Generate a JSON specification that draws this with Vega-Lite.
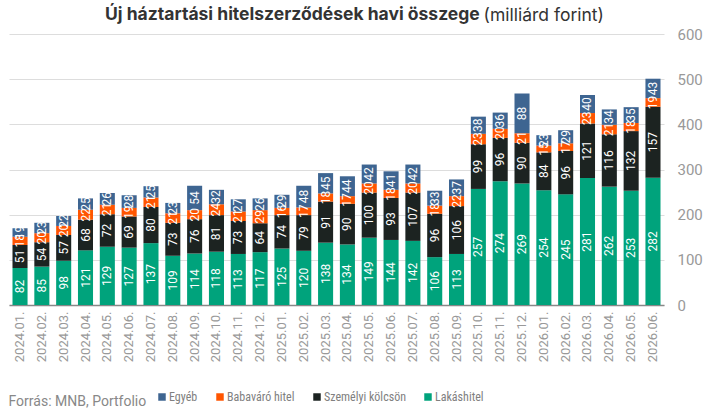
{
  "$schema": "https://vega.github.io/schema/vega-lite/v6.json",
  "autosize": {"type": "none"},
  "width": 655,
  "height": 271,
  "padding": {"left": 9, "top": 34, "right": 55, "bottom": 112},
  "background": "white",
  "title": {
    "text": "Új háztartási hitelszerződések havi összege",
    "anchor": "start",
    "frame": "group",
    "dx": 96,
    "dy": 31,
    "offset": 0,
    "baseline": "alphabetic",
    "font": "Inter",
    "fontSize": 17.5,
    "fontWeight": "bold",
    "color": "#333333"
  },
  "data": {
    "values": [
      {"honap": "2024.01.", "Lakáshitel": 82, "Személyi kölcsön": 51, "Babaváró hitel": 18, "Egyéb": 19},
      {"honap": "2024.02.", "Lakáshitel": 85, "Személyi kölcsön": 54, "Babaváró hitel": 20, "Egyéb": 23},
      {"honap": "2024.03.", "Lakáshitel": 98, "Személyi kölcsön": 57, "Babaváró hitel": 20, "Egyéb": 22},
      {"honap": "2024.04.", "Lakáshitel": 121, "Személyi kölcsön": 68, "Babaváró hitel": 22, "Egyéb": 25},
      {"honap": "2024.05.", "Lakáshitel": 129, "Személyi kölcsön": 72, "Babaváró hitel": 21, "Egyéb": 26},
      {"honap": "2024.06.", "Lakáshitel": 127, "Személyi kölcsön": 69, "Babaváró hitel": 19, "Egyéb": 28},
      {"honap": "2024.07.", "Lakáshitel": 137, "Személyi kölcsön": 80, "Babaváró hitel": 21, "Egyéb": 25},
      {"honap": "2024.08.", "Lakáshitel": 109, "Személyi kölcsön": 73, "Babaváró hitel": 21, "Egyéb": 23},
      {"honap": "2024.09.", "Lakáshitel": 114, "Személyi kölcsön": 76, "Babaváró hitel": 20, "Egyéb": 54},
      {"honap": "2024.10.", "Lakáshitel": 118, "Személyi kölcsön": 81, "Babaváró hitel": 24, "Egyéb": 32},
      {"honap": "2024.11.", "Lakáshitel": 113, "Személyi kölcsön": 73, "Babaváró hitel": 21, "Egyéb": 27},
      {"honap": "2024.12.", "Lakáshitel": 117, "Személyi kölcsön": 64, "Babaváró hitel": 29, "Egyéb": 26},
      {"honap": "2025.01.", "Lakáshitel": 125, "Személyi kölcsön": 74, "Babaváró hitel": 16, "Egyéb": 29},
      {"honap": "2025.02.", "Lakáshitel": 120, "Személyi kölcsön": 79, "Babaváró hitel": 17, "Egyéb": 48},
      {"honap": "2025.03.", "Lakáshitel": 138, "Személyi kölcsön": 91, "Babaváró hitel": 18, "Egyéb": 45},
      {"honap": "2025.04.", "Lakáshitel": 134, "Személyi kölcsön": 90, "Babaváró hitel": 17, "Egyéb": 44},
      {"honap": "2025.05.", "Lakáshitel": 149, "Személyi kölcsön": 100, "Babaváró hitel": 20, "Egyéb": 42},
      {"honap": "2025.06.", "Lakáshitel": 144, "Személyi kölcsön": 93, "Babaváró hitel": 18, "Egyéb": 41},
      {"honap": "2025.07.", "Lakáshitel": 142, "Személyi kölcsön": 107, "Babaváró hitel": 20, "Egyéb": 42},
      {"honap": "2025.08.", "Lakáshitel": 106, "Személyi kölcsön": 96, "Babaváró hitel": 18, "Egyéb": 33},
      {"honap": "2025.09.", "Lakáshitel": 113, "Személyi kölcsön": 106, "Babaváró hitel": 22, "Egyéb": 37},
      {"honap": "2025.10.", "Lakáshitel": 257, "Személyi kölcsön": 99, "Babaváró hitel": 23, "Egyéb": 38},
      {"honap": "2025.11.", "Lakáshitel": 274, "Személyi kölcsön": 96, "Babaváró hitel": 20, "Egyéb": 36},
      {"honap": "2025.12.", "Lakáshitel": 269, "Személyi kölcsön": 90, "Babaváró hitel": 21, "Egyéb": 88},
      {"honap": "2026.01.", "Lakáshitel": 254, "Személyi kölcsön": 84, "Babaváró hitel": 15, "Egyéb": 23},
      {"honap": "2026.02.", "Lakáshitel": 245, "Személyi kölcsön": 96, "Babaváró hitel": 17, "Egyéb": 29},
      {"honap": "2026.03.", "Lakáshitel": 281, "Személyi kölcsön": 121, "Babaváró hitel": 23, "Egyéb": 40},
      {"honap": "2026.04.", "Lakáshitel": 262, "Személyi kölcsön": 116, "Babaváró hitel": 21, "Egyéb": 34},
      {"honap": "2026.05.", "Lakáshitel": 253, "Személyi kölcsön": 132, "Babaváró hitel": 18, "Egyéb": 35},
      {"honap": "2026.06.", "Lakáshitel": 282, "Személyi kölcsön": 157, "Babaváró hitel": 19, "Egyéb": 43}
    ]
  },
  "transform": [
    {"fold": ["Lakáshitel", "Személyi kölcsön", "Babaváró hitel", "Egyéb"], "as": ["tipus", "ertek"]},
    {"window": [{"op": "row_number", "as": "sorrend"}], "groupby": ["honap"]}
  ],
  "encoding": {
    "x": {
      "field": "honap",
      "type": "ordinal",
      "scale": {"paddingInner": 0.31, "paddingOuter": 0.16},
      "axis": {
        "title": "Forrás: MNB, Portfolio",
        "titleX": -1,
        "titleY": 100,
        "titleAlign": "left",
        "titleAnchor": "start",
        "titleBaseline": "alphabetic",
        "titleFont": "Roboto",
        "titleFontSize": 14,
        "titleFontWeight": 400,
        "titleColor": "#888888",
        "labelAngle": -90,
        "labelFont": "Roboto",
        "labelFontSize": 13,
        "labelColor": "#999999",
        "labelPadding": 6,
        "ticks": false,
        "domainColor": "#888888",
        "domainWidth": 1.5
      }
    },
    "y": {
      "field": "ertek",
      "type": "quantitative",
      "stack": "zero",
      "scale": {"domain": [0, 600]},
      "axis": {
        "orient": "right",
        "values": [0, 100, 200, 300, 400, 500, 600],
        "title": "(milliárd forint)",
        "titleAngle": 0,
        "titleX": -181,
        "titleY": -14,
        "titleAlign": "left",
        "titleBaseline": "alphabetic",
        "titleFont": "Inter",
        "titleFontSize": 17.5,
        "titleFontWeight": 400,
        "titleColor": "#333333",
        "labelFont": "Roboto",
        "labelFontSize": 15,
        "labelColor": "#999999",
        "labelPadding": 13,
        "ticks": false,
        "domain": false,
        "grid": true,
        "gridColor": "#dddddd"
      }
    },
    "order": {"field": "sorrend", "type": "quantitative", "sort": "ascending"}
  },
  "layer": [
    {
      "mark": {"type": "bar"},
      "encoding": {
        "color": {
          "field": "tipus",
          "type": "nominal",
          "sort": ["Egyéb", "Babaváró hitel", "Személyi kölcsön", "Lakáshitel"],
          "scale": {
            "domain": ["Egyéb", "Babaváró hitel", "Személyi kölcsön", "Lakáshitel"],
            "range": ["#3e6591", "#ff5500", "#1c2321", "#00a37c"]
          },
          "legend": {
            "title": null,
            "orient": "none",
            "direction": "horizontal",
            "legendX": 147,
            "legendY": 357,
            "padding": 0,
            "symbolType": "square",
            "symbolSize": 56,
            "symbolStrokeWidth": 0,
            "labelFont": "Roboto Condensed, Liberation Sans Narrow, DejaVu Sans Condensed, Roboto",
            "labelFontSize": 12,
            "labelColor": "#808080",
            "labelOffset": 1,
            "columnPadding": 16
          }
        }
      }
    },
    {
      "mark": {"type": "text", "angle": 270, "font": "Roboto", "fontSize": 12, "align": "center", "baseline": "middle", "color": "#ffffff"},
      "encoding": {
        "y": {"field": "ertek", "type": "quantitative", "stack": "zero", "bandPosition": 0.5},
        "detail": {"field": "tipus", "type": "nominal"},
        "text": {"field": "ertek", "type": "quantitative", "format": "d"}
      }
    }
  ],
  "config": {
    "view": {"stroke": null}
  }
}
